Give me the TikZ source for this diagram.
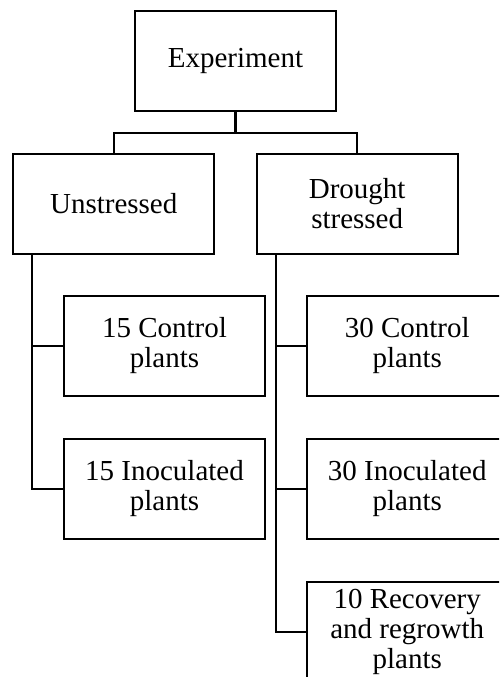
\documentclass[tikz,border=0pt]{standalone}
\usepackage{fontspec}
\setmainfont{Liberation Serif}
\begin{document}
\begin{tikzpicture}[x=1pt,y=-1pt,
  box/.style={draw=black,line width=2.2pt,minimum width=201pt,minimum height=100.5pt,
    inner sep=0pt,align=center,font=\fontsize{29}{30}\selectfont},
  conn/.style={draw=black,line width=2.2pt}]
\useasboundingbox (0,0) rectangle (499,677);
\clip (0,0) rectangle (499,677);
\node[box] (exp) at (235.5,61) {Experiment};
\node[box] (uns) at (113.7,204) {Unstressed};
\node[box] (dro) at (357.2,204) {Drought\\stressed};
\node[box] (c15) at (164.5,346) {15 Control\\plants};
\node[box] (i15) at (164.5,489) {15 Inoculated\\plants};
\node[box] (c30) at (407.2,346) {30 Control\\plants};
\node[box] (i30) at (407.2,489) {30 Inoculated\\plants};
\node[box] (rec) at (407.2,632) {10 Recovery\\and regrowth\\plants};
\coordinate (j) at (235.5,132.7);
\draw[conn] (exp.south) -- (j);
\draw[conn] (uns.north) |- (j) -| (dro.north);
\coordinate (lt) at ([xshift=20pt]uns.south west);
\coordinate (rt) at ([xshift=20pt]dro.south west);
\draw[conn] (lt) |- (i15.west);
\draw[conn] (lt) |- (c15.west);
\draw[conn] (rt) |- (rec.west);
\draw[conn] (rt) |- (c30.west);
\draw[conn] (rt) |- (i30.west);
\end{tikzpicture}
\end{document}
